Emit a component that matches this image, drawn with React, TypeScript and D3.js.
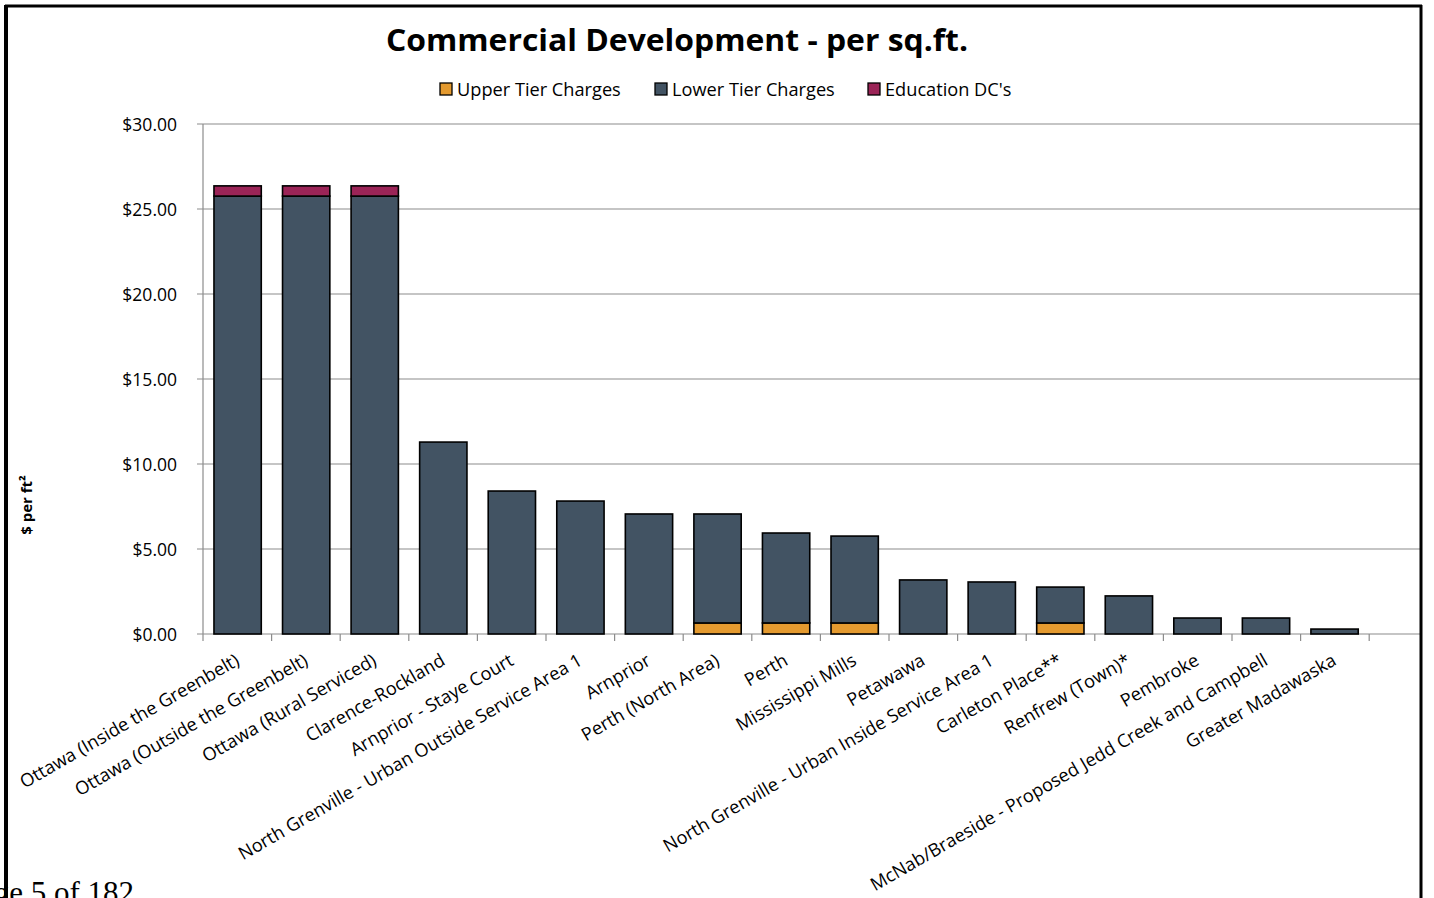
import React, { useEffect } from "react";
import * as d3 from "d3";

// chart data
const categories = [
  "Ottawa (Inside the Greenbelt)",
  "Ottawa (Outside the Greenbelt)",
  "Ottawa (Rural Serviced)",
  "Clarence-Rockland",
  "Arnprior - Staye Court",
  "North Grenville - Urban Outside Service Area 1",
  "Arnprior",
  "Perth (North Area)",
  "Perth",
  "Mississippi Mills",
  "Petawawa",
  "North Grenville - Urban Inside Service Area 1",
  "Carleton Place**",
  "Renfrew (Town)*",
  "Pembroke",
  "McNab/Braeside - Proposed Jedd Creek and Campbell",
  "Greater Madawaska",
];
const upperTier = [0, 0, 0, 0, 0, 0, 0, 0.65, 0.65, 0.65, 0, 0, 0.65, 0, 0, 0, 0];
const lowerTier = [25.76, 25.76, 25.76, 11.29, 8.41, 7.82, 7.06, 6.41, 5.29, 5.11, 3.18, 3.06, 2.11, 2.24, 0.94, 0.94, 0.29];
const education = [0.6, 0.6, 0.6, 0, 0, 0, 0, 0, 0, 0, 0, 0, 0, 0, 0, 0, 0];
const seriesNames = ["Upper Tier Charges", "Lower Tier Charges", "Education DC's"];
const yTicks = [0, 5, 10, 15, 20, 25, 30];

const colors = ["#e49a2f", "#425363", "#9b2457"];
const FONT = "'Open Sans', 'DejaVu Sans', sans-serif";

const W = 1434;
const H = 898;
const plot = { left: 203, right: 1420, top: 124, bottom: 634 };

export default function App() {
  useEffect(() => {
    document.body.style.margin = "0";
  }, []);

  const x = d3
    .scaleBand<string>()
    .domain(categories)
    .range([plot.left, plot.left + 68.6 * categories.length])
    .paddingInner(0.31)
    .paddingOuter(0.16);

  const bounds = d3
    .scaleBand<string>()
    .domain(categories)
    .range([plot.left, plot.left + 68.6 * categories.length]);

  const y = d3.scaleLinear().domain([0, 30]).range([plot.bottom, plot.top]);

  const rows = categories.map((c, i) => ({
    name: c,
    upper: upperTier[i],
    lower: lowerTier[i],
    edu: education[i],
  }));
  const stack = d3.stack<any>().keys(["upper", "lower", "edu"]);
  const layers = stack(rows);

  const boundaryTicks = categories.map((c) => bounds(c) as number);
  boundaryTicks.push(plot.left + 68.6 * categories.length);

  const legendX = [440, 655, 868];

  return (
    <svg width={W} height={H} style={{ display: "block", background: "#fff" }}>
      <rect x={0} y={0} width={W} height={H} fill="#fff" />

      {/* clipped page footer */}
      <text x={134} y={903} textAnchor="end" fontFamily="'Liberation Serif', 'Times New Roman', serif" fontSize={31} fill="#000">
        Page 5 of 182
      </text>

      {/* title */}
      <text x={677} y={51} textAnchor="middle" fontFamily={FONT} fontWeight="bold" fontSize={31}
        textLength={582} lengthAdjust="spacingAndGlyphs" fill="#000">
        Commercial Development - per sq.ft.
      </text>

      {/* legend */}
      {seriesNames.map((s, i) => (
        <g key={s}>
          <rect x={legendX[i]} y={83} width={12} height={12} fill={colors[i]} stroke="#000" strokeWidth={1.3} />
          <text x={legendX[i] + 17} y={95.5} fontFamily={FONT} fontSize={18.2} fill="#000">
            {s}
          </text>
        </g>
      ))}

      {/* gridlines and y ticks */}
      {yTicks.map((t) => (
        <g key={t}>
          <line x1={plot.left - 6} x2={plot.right} y1={y(t)} y2={y(t)} stroke="#8c8c8c" strokeWidth={1.2} />
          <text x={177} y={y(t)} dy="0.38em" textAnchor="end" fontFamily={FONT} fontSize={17.5} fill="#000">
            {d3.format("$.2f")(t)}
          </text>
        </g>
      ))}
      <line x1={plot.left} x2={plot.left} y1={plot.top} y2={plot.bottom} stroke="#8c8c8c" strokeWidth={1.2} />

      {/* x ticks */}
      {boundaryTicks.map((b, i) => (
        <line key={i} x1={b} x2={b} y1={plot.bottom} y2={plot.bottom + 7} stroke="#8c8c8c" strokeWidth={1.2} />
      ))}

      {/* bars */}
      {layers.map((layer, li) => (
        <g key={li} fill={colors[li]}>
          {layer.map((d, i) =>
            d[1] - d[0] > 0 ? (
              <rect
                key={i}
                x={x(categories[i])}
                y={y(d[1])}
                width={x.bandwidth()}
                height={y(d[0]) - y(d[1])}
                stroke="#000"
                strokeWidth={1.6}
              />
            ) : null
          )}
        </g>
      ))}

      {/* category labels */}
      {categories.map((c) => {
        const cx = (x(c) as number) + x.bandwidth() / 2 + 3;
        return (
          <text key={c} transform={`translate(${cx},${plot.bottom + 30}) rotate(-30)`} textAnchor="end"
            fontFamily={FONT} fontSize={18.2} fill="#000">
            {c}
          </text>
        );
      })}

      {/* y axis title */}
      <text transform="translate(32,505) rotate(-90)" textAnchor="middle" fontFamily={FONT} fontWeight="bold" fontSize={15} fill="#000">
        $ per ft²
      </text>

      {/* border */}
      <line x1={6} x2={6} y1={5} y2={H} stroke="#000" strokeWidth={4} />
      <line x1={5} x2={1422} y1={6} y2={6} stroke="#000" strokeWidth={3} />
      <line x1={1421} x2={1421} y1={5} y2={H} stroke="#000" strokeWidth={3} />
    </svg>
  );
}
